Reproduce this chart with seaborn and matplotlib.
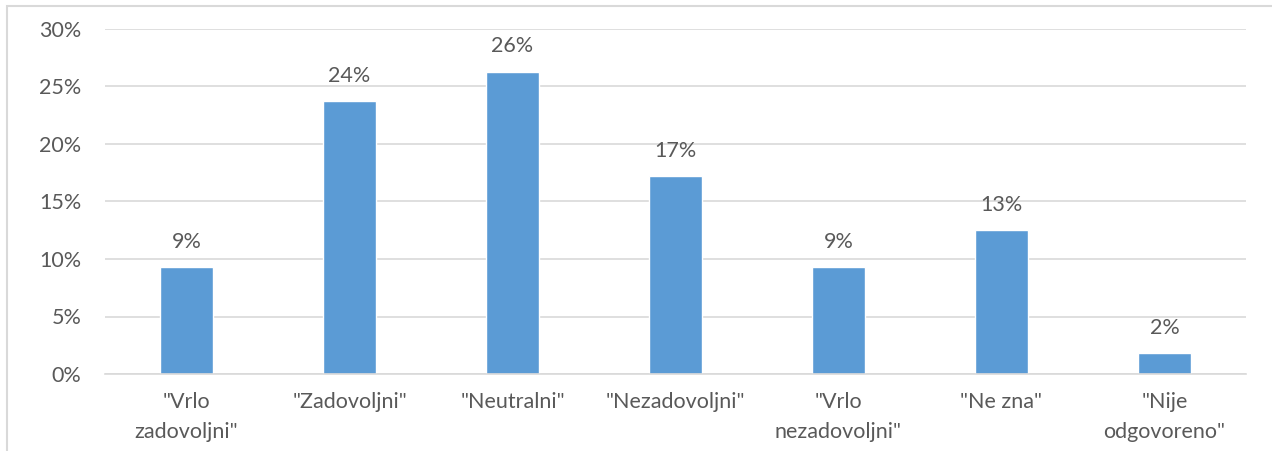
import matplotlib
matplotlib.use("Agg")
import matplotlib.pyplot as plt
import seaborn as sns
import pandas as pd
from matplotlib.patches import Rectangle

categories = ['"Vrlo\nzadovoljni"', '"Zadovoljni"', '"Neutralni"', '"Nezadovoljni"',
              '"Vrlo\nnezadovoljni"', '"Ne zna"', '"Nije\nodgovoreno"']
values = [9.3, 23.7, 26.3, 17.2, 9.3, 12.5, 1.8]
labels = ["9%", "24%", "26%", "17%", "9%", "13%", "2%"]
yticks = [0, 5, 10, 15, 20, 25, 30]

sns.set_theme(style="white")
plt.rcParams['font.family'] = ['Lato', 'DejaVu Sans']

df = pd.DataFrame({"cat": categories, "val": values})

fig = plt.figure(figsize=(12.72, 4.51), dpi=100)
ax = fig.add_axes([105/1272, 1 - 374/451, (1246-105)/1272, 345/451])

sns.barplot(data=df, x="cat", y="val", color="#5B9BD5", width=0.32, ax=ax, saturation=1)

ax.set_ylim(0, 30)
ax.set_yticks(yticks)
ax.set_yticklabels([f"{t}%" for t in yticks])
ax.set_xlim(-0.5, len(categories) - 0.5)
ax.yaxis.grid(True, color="#D9D9D9", linewidth=1.2)
ax.set_axisbelow(True)
for s in ["top", "right", "left"]:
    ax.spines[s].set_visible(False)
ax.spines["bottom"].set_color("#D9D9D9")
ax.spines["bottom"].set_linewidth(1.2)
ax.tick_params(axis="both", length=0, colors="#595959", labelsize=15.5)
ax.tick_params(axis="y", pad=17)
ax.tick_params(axis="x", pad=13)
for t in ax.get_xticklabels():
    t.set_linespacing(1.6)
ax.set_xlabel("")
ax.set_ylabel("")

for p, lab in zip(ax.patches, labels):
    ax.annotate(lab, (p.get_x() + p.get_width() / 2, p.get_height()),
                xytext=(0, 11), textcoords="offset points", ha="center", va="bottom",
                fontsize=15.5, color="#595959")

fig.patches.append(Rectangle((7/1272, -0.1), 1.2, 1 - 6/451 + 0.1, transform=fig.transFigure,
                             fill=False, edgecolor="#D9D9D9", linewidth=1.5))

fig.savefig("out.png", dpi=100)
